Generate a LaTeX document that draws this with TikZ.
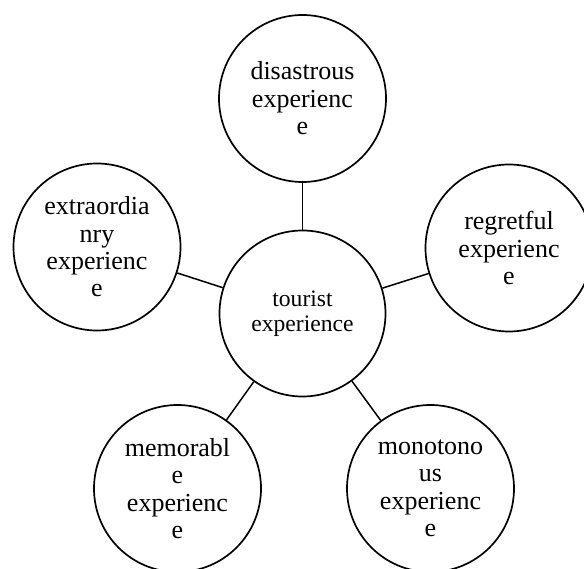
\documentclass[tikz,border=0pt]{standalone}
\usepackage{fontspec}
\setmainfont{Liberation Serif}
\usetikzlibrary{positioning}
\tikzset{
    % Outer experience circle
    outer/.style={
        circle,
        draw=black,
        line width=1.7pt,
        minimum size=167pt,
        inner sep=0pt,
        align=center,
        font=\fontsize{26}{27.4}\selectfont
    },
    % Centre circle
    core/.style={
        circle,
        draw=black,
        line width=1.7pt,
        minimum size=166pt,
        inner sep=0pt,
        align=center,
        font=\fontsize{23.6}{24.7}\selectfont
    },
    % Connector
    link/.style={
        draw=black,
        line width=1.5pt
    }
}
\begin{document}
\begin{tikzpicture}[x=1pt, y=1pt]
        \useasboundingbox (0,0) rectangle (584,-569);

        % Centre
        \node (tour) [core] at (302.5,-313.5) {tourist\\experience};

        % Outer circles
        \node (dis) [outer] at (302.5,-98.5) {disastrous\\experienc\\e};
        \node (reg) [outer] at (509,-248) {regretful\\experienc\\e};
        \node (ext) [outer] at (97,-247) {extraordia\\nry\\experienc\\e};
        \node (mem) [outer] at (177.5,-488.5) {memorabl\\e\\experienc\\e};
        \node (mon) [outer] at (430.5,-488.5) {monotono\\us\\experienc\\e};

        % Links
        \draw [link] (tour) -- (dis);
        \draw [link] (tour) -- (reg);
        \draw [link] (tour) -- (ext);
        \draw [link] (tour) -- (mem);
        \draw [link] (tour) -- (mon);
    \end{tikzpicture}
\end{document}
